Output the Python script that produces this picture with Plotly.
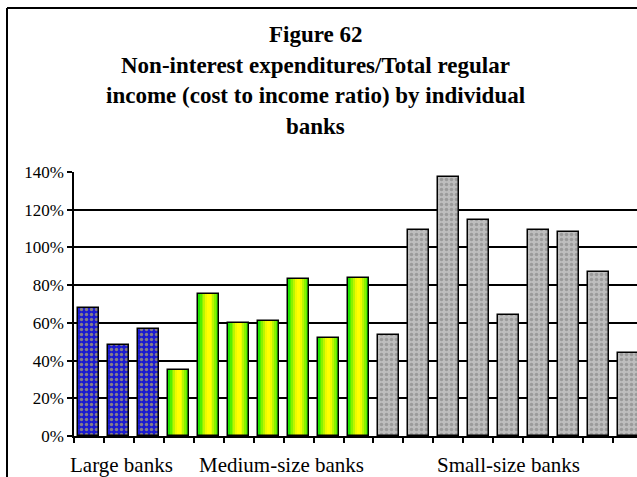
import plotly.graph_objects as go

# Cost to income ratio (%) by individual bank
large_banks = [68, 48, 57]
medium_banks = [35, 75.5, 59.7, 60.8, 83, 52, 84]
small_banks = [53.4, 109.4, 137.3, 114.8, 64, 109.5, 108.4, 87.2, 44.2]

group_names = ["Large banks", "Medium-size banks", "Small-size banks"]
title_lines = [
    "Figure 62",
    "Non-interest expenditures/Total regular",
    "income (cost to income ratio) by individual",
    "banks",
]
y_ticks = [0, 20, 40, 60, 80, 100, 120, 140]

SERIF = "Liberation Serif, Times New Roman, serif"

n_large = len(large_banks)
n_medium = len(medium_banks)
n_small = len(small_banks)
x_large = list(range(n_large))
x_medium = list(range(n_large, n_large + n_medium))
x_small = list(range(n_large + n_medium, n_large + n_medium + n_small))

fig = go.Figure()

# Large banks: blue with yellow dots
fig.add_trace(go.Bar(
    x=x_large, y=large_banks, width=0.7,
    marker=dict(
        color="#1a1ad0",
        line=dict(color="black", width=1.5),
        pattern=dict(shape=".", fgcolor="#f0e040", bgcolor="#1a1ad0",
                     size=5, solidity=0.35),
    ),
    showlegend=False, hoverinfo="y",
))

# Medium banks: green-to-yellow gradient made from nested bars
gradient = ["#22e600", "#55ee00", "#88f200", "#bbf600", "#eefa00", "#ffff00"]
widths = [0.7, 0.6, 0.48, 0.36, 0.24, 0.12]
for col, w in zip(gradient, widths):
    fig.add_trace(go.Bar(
        x=x_medium, y=medium_banks, width=w,
        marker=dict(color=col, line=dict(color=col, width=0)),
        showlegend=False, hoverinfo="y",
    ))
# outline on top
fig.add_trace(go.Bar(
    x=x_medium, y=medium_banks, width=0.7,
    marker=dict(color="rgba(0,0,0,0)", line=dict(color="black", width=1.5)),
    showlegend=False, hoverinfo="skip",
))

# Small banks: grey granite texture
fig.add_trace(go.Bar(
    x=x_small, y=small_banks, width=0.7,
    marker=dict(
        color="#b4b4b4",
        line=dict(color="black", width=1.5),
        pattern=dict(shape=".", fgcolor="#777777", bgcolor="#bdbdbd",
                     size=5, solidity=0.4),
    ),
    showlegend=False, hoverinfo="y",
))

# Title lines
title_y = [1.519, 1.405, 1.288, 1.174]
for text, ty in zip(title_lines, title_y):
    fig.add_annotation(
        text=f"<b>{text}</b>", xref="paper", yref="paper",
        x=(315 - 74) / 563, y=ty, showarrow=False,
        xanchor="center", yanchor="middle",
        font=dict(family=SERIF, size=23, color="black"),
    )

# Group labels below the axis
group_x = [1.1, 6.43, 14.0]
for name, gx in zip(group_names, group_x):
    fig.add_annotation(
        text=name, xref="x", yref="paper", x=gx, y=-0.11,
        showarrow=False, xanchor="center", yanchor="middle",
        borderpad=0,
        font=dict(family=SERIF, size=21, color="black"),
    )

# Outer frame of the chart
fig.add_shape(type="line", xref="paper", yref="paper",
              x0=-0.119, x1=-0.119, y0=1.621, y1=-0.2,
              line=dict(color="black", width=2))
fig.add_shape(type="line", xref="paper", yref="paper",
              x0=-0.119, x1=1.05, y0=1.621, y1=1.621,
              line=dict(color="black", width=2))

n_total = n_large + n_medium + n_small
fig.update_layout(
    width=637, height=477,
    margin=dict(l=74, r=0, t=172, b=41),
    paper_bgcolor="white", plot_bgcolor="white",
    barmode="overlay",
    bargap=0,
    font=dict(family=SERIF, size=17, color="black"),
    xaxis=dict(
        range=[-0.5, n_total - 0.7],
        tickvals=[i - 0.5 for i in range(n_total + 1)],
        ticktext=["" for _ in range(n_total + 1)],
        ticks="outside", ticklen=5, tickwidth=1.5, tickcolor="black",
        showline=True, linecolor="black", linewidth=1.5,
        showgrid=False, zeroline=False,
    ),
    yaxis=dict(
        range=[0, 140],
        tickvals=y_ticks,
        ticktext=[f"{v}%" for v in y_ticks],
        ticks="outside", ticklen=5, tickwidth=1.5, tickcolor="black",
        showline=True, linecolor="black", linewidth=1.5,
        showgrid=True, gridcolor="black", gridwidth=1.5,
        zeroline=False,
        tickfont=dict(family=SERIF, size=17, color="black"),
    ),
)

fig.write_html(
    "out.html",
    config={"displayModeBar": False},
    post_script="document.body.style.margin='0';",
)
